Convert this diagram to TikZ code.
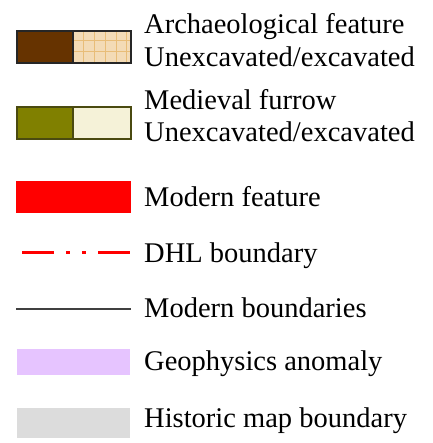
\documentclass[tikz,border=0pt]{standalone}
\usepackage{fontspec}
\setmainfont{Liberation Serif}
\usepackage{tikz}
\usetikzlibrary{positioning}
\definecolor{archdark}{HTML}{663300}
\definecolor{archlight}{HTML}{F3DBB6}
\definecolor{archgrid}{HTML}{E8BD78}
\definecolor{furrowdark}{HTML}{808000}
\definecolor{furrowlight}{HTML}{F5F2D8}
\definecolor{furrowedge}{HTML}{4A4A10}
\definecolor{geoviolet}{HTML}{E6C4FF}
\definecolor{histgrey}{HTML}{DCDCDC}

\begin{document}
\begin{tikzpicture}[
  x=1pt, y=1pt,
  font=\fontsize{28.5}{33}\selectfont,
  boxline/.style={draw=#1, line width=1.2pt},
  gridline/.style={archgrid, line width=0.8pt},
  dhl/.style={red, line width=3pt, dash pattern=on 32pt off 12pt on 4pt off 12pt on 4pt off 12pt on 32pt},
  modline/.style={black!75, line width=1.5pt},
  lbl/.style={anchor=base west, inner sep=0pt}
]
\fill[white] (0,0) rectangle (432,443);
\useasboundingbox (0,0) rectangle (432,443);
% archaeological feature
\fill[archdark] (17,380) rectangle (73,412);
\fill[archlight] (73,380) rectangle (131,412);
\foreach \gx in {83.3,94.3,105.3,116.3,126.7}
  \draw[gridline] (\gx,380) -- (\gx,412);
\foreach \gy in {392,402.3}
  \draw[gridline] (73,\gy) -- (131,\gy);
\draw[boxline=black!85] (17,380) rectangle (131,412);
\draw[boxline=black!85] (73,380) -- (73,412);
\node[lbl] (archtxt) at (144,409) {Archaeological feature};
\node[lbl] (archsub) at (144,376) {Unexcavated/excavated};
% medieval furrow
\fill[furrowdark] (17,304) rectangle (73,336);
\fill[furrowlight] (73,304) rectangle (131,336);
\draw[boxline=furrowedge] (17,304) rectangle (131,336);
\draw[boxline=furrowedge] (73,304) -- (73,336);
\node[lbl] (furtxt) at (144,333) {Medieval furrow};
\node[lbl] (fursub) at (144,301) {Unexcavated/excavated};
% modern feature
\fill[red] (16,230) rectangle (131,262);
\node[lbl] (modtxt) at (144,236) {Modern feature};
% DHL boundary
\coordinate (dhlA) at (22,190);
\coordinate (dhlB) at (130,190);
\draw[dhl] (dhlA) -- (dhlB);
\node[lbl] (dhltxt) at (144,180) {DHL boundary};
% modern boundaries
\coordinate (bndA) at (16,134);
\coordinate (bndB) at (131,134);
\draw[modline] (bndA) -- (bndB);
\node[lbl] (bndtxt) at (144,125) {Modern boundaries};
% geophysics
\fill[geoviolet] (17,68) rectangle (130,94);
\node[lbl] (geotxt) at (144,72) {Geophysics anomaly};
% historic map
\fill[histgrey] (17,5) rectangle (130,35);
\node[lbl] (histtxt) at (144,16) {Historic map boundary};
\end{tikzpicture}
\end{document}
